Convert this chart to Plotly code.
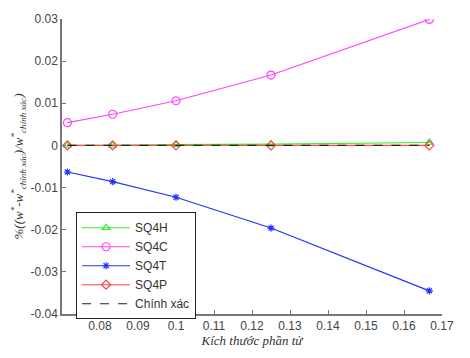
import plotly.graph_objects as go

# Element sizes (x axis)
element_size = [1/14, 1/12, 1/10, 1/8, 1/6]

# Relative error of each element type
sq4h = [0.0, 0.0, 0.0002, 0.0003, 0.0007]
sq4c = [0.0054, 0.0074, 0.0106, 0.0167, 0.0299]
sq4t = [-0.0063, -0.0086, -0.0123, -0.0196, -0.0345]
sq4p = [0.0, 0.0, 0.0, 0.0, 0.0]
exact = [0.0, 0.0, 0.0, 0.0, 0.0]

x_ticks = [0.08, 0.09, 0.10, 0.11, 0.12, 0.13, 0.14, 0.15, 0.16, 0.17]
x_tick_text = ["0.08", "0.09", "0.1", "0.11", "0.12", "0.13", "0.14", "0.15", "0.16", "0.17"]
y_ticks = [-0.04, -0.03, -0.02, -0.01, 0, 0.01, 0.02, 0.03]
y_tick_text = ["-0.04", "-0.03", "-0.02", "-0.01", "0", "0.01", "0.02", "0.03"]

fig = go.Figure()

def add_series(y, name, color, symbol, size=7):
    fig.add_trace(go.Scatter(
        x=element_size, y=y, name=name, mode="lines+markers",
        line=dict(color=color, width=1.2),
        marker=dict(symbol=symbol, size=size, color=color,
                    line=dict(color=color, width=1.2)),
    ))

add_series(sq4h, "SQ4H", "#33ee33", "triangle-up-open")
add_series(sq4c, "SQ4C", "#ff44ff", "circle-open", 8)
add_series(sq4t, "SQ4T", "#2233ff", "asterisk", 6)
add_series(sq4p, "SQ4P", "#ff4444", "diamond-open")
fig.add_trace(go.Scatter(
    x=element_size, y=exact, name="Chính xác", mode="lines",
    line=dict(color="#222222", width=1.2, dash="dash"),
))

axis_common = dict(
    showgrid=False, zeroline=False, showline=True, linecolor="#777777",
    linewidth=1.5, ticks="inside", ticklen=4, tickcolor="#777777",
    tickfont=dict(family="Arial, Liberation Sans", size=12, color="#444444"),
    mirror=False,
)

y_title = ("<i>%((w<sup>*</sup>-w<sup>*</sup><sub>chính xác</sub>)"
           "/w<sup>*</sup><sub>chính xác</sub>)</i>")

fig.update_layout(
    width=470, height=358,
    margin=dict(l=62, r=28, t=17, b=44),
    paper_bgcolor="white", plot_bgcolor="white",
    showlegend=True,
    legend=dict(
        x=0.037, y=0.345, xanchor="left", yanchor="top",
        bordercolor="#222222", borderwidth=1, bgcolor="white",
        font=dict(family="Arial, Liberation Sans", size=12, color="#333333"),
        tracegroupgap=0, itemwidth=48,
    ),
    xaxis=dict(range=[0.07, 0.17], tickvals=x_ticks, ticktext=x_tick_text,
               title=dict(text="<i>Kích thước phần tử</i>", standoff=4,
                          font=dict(family="Times New Roman, Liberation Serif", size=13, color="#333333")),
               **axis_common),
    yaxis=dict(range=[-0.04, 0.03], tickvals=y_ticks, ticktext=y_tick_text,
               title=dict(text=y_title, standoff=4,
                          font=dict(family="Times New Roman, Liberation Serif", size=13, color="#333333")),
               **axis_common),
)

fig.write_html("out.html")
